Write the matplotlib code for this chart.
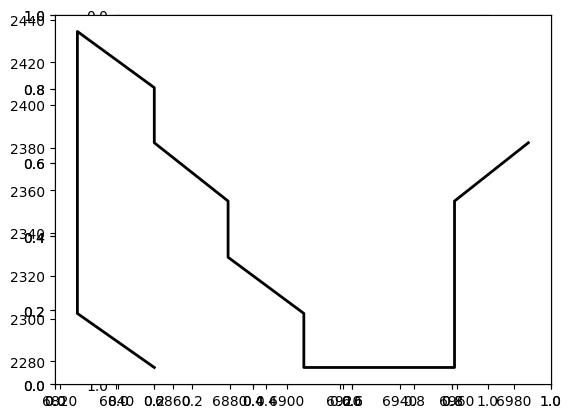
import numpy as np
import matplotlib
matplotlib.use("Agg")
import matplotlib.pyplot as plt

# perfil (x, cota)
x_vals = [6853.4, 6826.3, 6826.3, 6853.4, 6853.4, 6879.4,
          6879.4, 6906.1, 6906.1, 6959.2, 6959.2, 6985.2]
y_vals = [2277.1, 2302.4, 2434.4, 2408.1, 2382.3, 2355.0,
          2328.7, 2302.4, 2277.1, 2277.1, 2355.0, 2382.3]

fig = plt.figure(figsize=(6.4, 4.8), dpi=100)

# ejes cuadrados con el eje y invertido (quedan debajo de todo)
ax_sq = fig.add_axes([0.125, 0.11, 0.775, 0.77], label="sq")
ax_sq.set_aspect("equal")
ax_sq.invert_yaxis()

# dos ejes vacios con la escala por defecto 0-1
ax_a = fig.add_axes([0.125, 0.11, 0.775, 0.77], label="a")
ax_b = fig.add_axes([0.125, 0.11, 0.775, 0.77], label="b")

# ejes del perfil encima
ax = fig.add_axes([0.125, 0.11, 0.775, 0.77], label="perfil")
ax.plot(x_vals, y_vals, color="black", lw=2)

fig.savefig("out.png", dpi=100, bbox_inches="tight")
